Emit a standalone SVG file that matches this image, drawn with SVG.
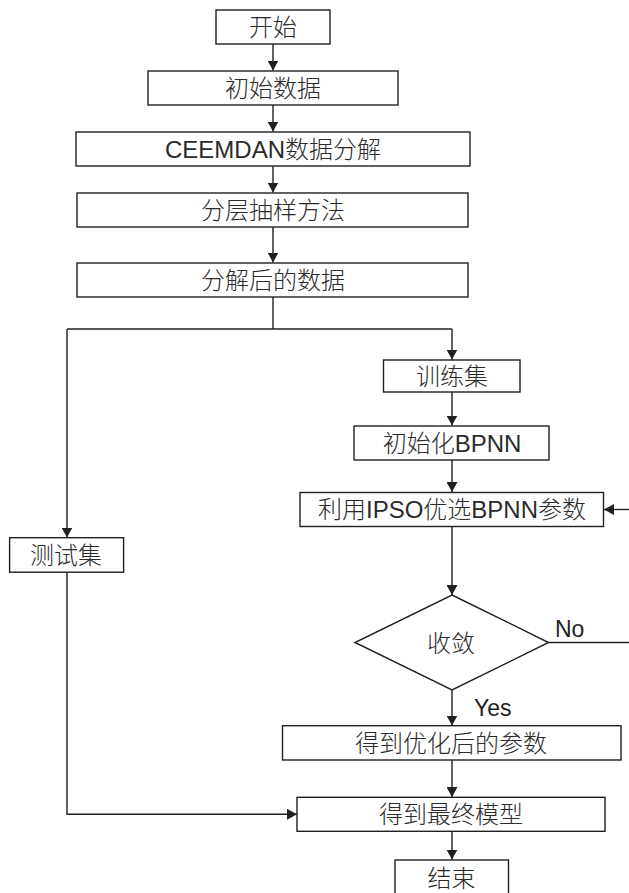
<svg xmlns="http://www.w3.org/2000/svg" width="629" height="893" viewBox="0 0 629 893">
<defs>
<marker id="arr" markerUnits="userSpaceOnUse" markerWidth="11" markerHeight="11" refX="10" refY="5.5" orient="auto">
<path d="M0,0 L10,5.5 L0,11 z" fill="#231f20"/>
</marker>
<style>
.box{fill:#fff;stroke:#231f20;stroke-width:1.4}
.t{font-family:"Liberation Sans","Noto Sans CJK SC",sans-serif;font-size:24px;font-weight:300;fill:#2b2b2b;text-anchor:middle;dominant-baseline:central}
.lbl{font-family:"Liberation Sans","Noto Sans CJK SC",sans-serif;font-size:23px;fill:#231f20}
.c{fill:none;stroke:#231f20;stroke-width:1.4}
</style>
</defs>
<rect width="629" height="893" fill="#fff"/>
<g id="connectors">
<line class="c" x1="273" y1="44" x2="273" y2="70.5" marker-end="url(#arr)"/>
<line class="c" x1="273" y1="105" x2="273" y2="131.5" marker-end="url(#arr)"/>
<line class="c" x1="273" y1="166" x2="273" y2="192.5" marker-end="url(#arr)"/>
<line class="c" x1="273" y1="227" x2="273" y2="262.5" marker-end="url(#arr)"/>
<polyline class="c" points="273,297 273,329"/>
<polyline class="c" points="67,329 452,329"/>
<line class="c" x1="67" y1="329" x2="67" y2="537.5" marker-end="url(#arr)"/>
<line class="c" x1="452" y1="329" x2="452" y2="359.5" marker-end="url(#arr)"/>
<line class="c" x1="452" y1="392" x2="452" y2="425.5" marker-end="url(#arr)"/>
<line class="c" x1="452" y1="460" x2="452" y2="492" marker-end="url(#arr)"/>
<line class="c" x1="629" y1="509.5" x2="604" y2="509.5" marker-end="url(#arr)"/>
<line class="c" x1="452" y1="527" x2="452" y2="595" marker-end="url(#arr)"/>
<polyline class="c" points="548.5,642.5 629,642.5"/>
<line class="c" x1="452" y1="690" x2="452" y2="725.5" marker-end="url(#arr)"/>
<line class="c" x1="452" y1="760" x2="452" y2="797" marker-end="url(#arr)"/>
<polyline class="c" points="67,572 67,814.3 297,814.3" marker-end="url(#arr)"/>
<line class="c" x1="452" y1="831" x2="452" y2="859.5" marker-end="url(#arr)"/>
<text class="lbl" x="555" y="637">No</text>
<text class="lbl" x="474" y="716">Yes</text>
</g>
<g id="n-start"><rect class="box" x="216" y="10" width="114" height="34"/><text class="t" x="273" y="27">开始</text></g>
<g id="n-init-data"><rect class="box" x="148" y="71" width="250" height="34"/><text class="t" x="273" y="88">初始数据</text></g>
<g id="n-ceemdan"><rect class="box" x="76" y="132" width="394" height="34"/><text class="t" x="273" y="149">CEEMDAN数据分解</text></g>
<g id="n-sampling"><rect class="box" x="77" y="193" width="391" height="34"/><text class="t" x="273" y="210">分层抽样方法</text></g>
<g id="n-decomposed"><rect class="box" x="77" y="263" width="391" height="34"/><text class="t" x="273" y="280">分解后的数据</text></g>
<g id="n-train"><rect class="box" x="383.5" y="360" width="136.5" height="32"/><text class="t" x="452" y="376">训练集</text></g>
<g id="n-init-bpnn"><rect class="box" x="354" y="426" width="195" height="34"/><text class="t" x="452" y="443">初始化BPNN</text></g>
<g id="n-ipso"><rect class="box" x="300" y="492.5" width="303.5" height="34"/><text class="t" x="452" y="509.5">利用IPSO优选BPNN参数</text></g>
<g id="n-test"><rect class="box" x="9.6" y="537.7" width="114" height="34.5"/><text class="t" x="66" y="555">测试集</text></g>
<g id="n-converge"><polygon class="box" points="452,595 548.5,642.5 452,690 355,642.5"/><text class="t" x="451" y="643">收敛</text></g>
<g id="n-optimized"><rect class="box" x="282.5" y="725.7" width="338.5" height="34.3"/><text class="t" x="451" y="743">得到优化后的参数</text></g>
<g id="n-final"><rect class="box" x="297" y="797.3" width="308" height="34"/><text class="t" x="451" y="814">得到最终模型</text></g>
<g id="n-end"><rect class="box" x="395" y="860" width="113.5" height="37"/><text class="t" x="451.5" y="878">结束</text></g>
</svg>
